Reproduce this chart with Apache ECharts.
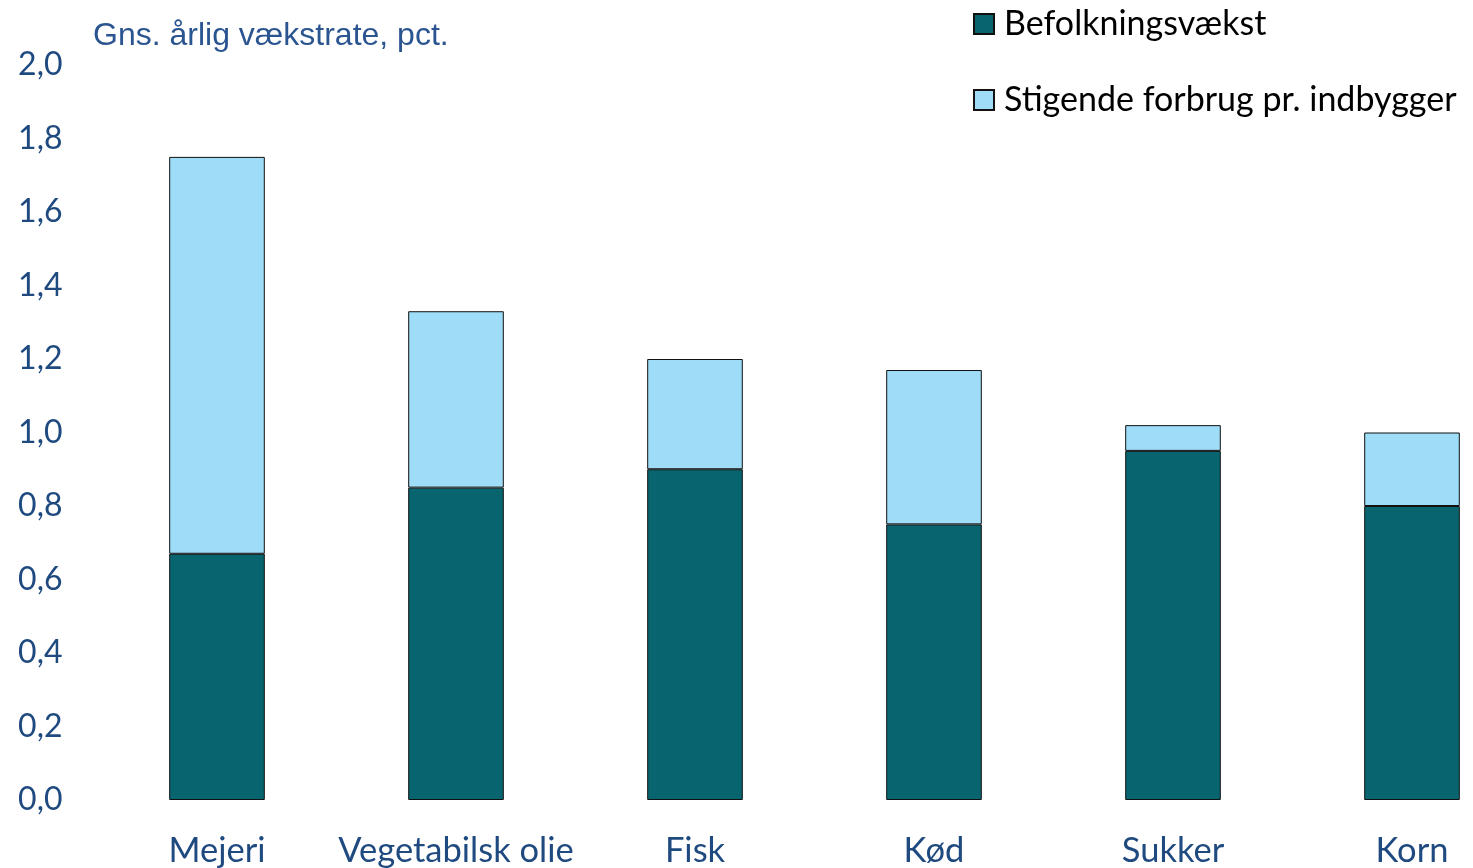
<!DOCTYPE html>
<html>
<head>
<meta charset="utf-8">
<script src="https://cdn.jsdelivr.net/npm/echarts@6.0.0/dist/echarts.min.js"></script>
<style>
html,body{margin:0;padding:0;background:#fff;}
#chart{width:1473px;height:868px;}
</style>
</head>
<body>
<div id="chart"></div>
<script>
var categories = ['Mejeri', 'Vegetabilsk olie', 'Fisk', 'Kød', 'Sukker', 'Korn'];
var befolkningsvaekst = [0.67, 0.85, 0.90, 0.75, 0.95, 0.80];
var stigendeForbrug = [1.08, 0.48, 0.30, 0.42, 0.07, 0.20];
var yTicks = [0, 0.2, 0.4, 0.6, 0.8, 1.0, 1.2, 1.4, 1.6, 1.8, 2.0];

var chart = echarts.init(document.getElementById('chart'));
var labelFont = 'Lato, "Noto Sans", sans-serif';
chart.setOption({
  animation: false,
  title: {
    text: 'Gns. årlig vækstrate, pct.',
    left: 88, top: 14,
    textStyle: {fontFamily: '"Liberation Sans", Arial, sans-serif', fontSize: 32, fontWeight: 'normal', color: '#2B5590', lineHeight: 34}
  },
  legend: [{
    data: ['Befolkningsvækst'],
    left: 973, top: 7, orient: 'vertical', padding: 0,
    itemWidth: 20, itemHeight: 20, icon: 'rect',
    textStyle: {fontFamily: labelFont, fontSize: 34, color: '#000', lineHeight: 34, padding: [0,0,0,5]},
    selectedMode: false
  }, {
    data: ['Stigende forbrug pr. indbygger'],
    left: 973, top: 83, orient: 'vertical', padding: 0,
    itemWidth: 20, itemHeight: 20, icon: 'rect',
    textStyle: {fontFamily: labelFont, fontSize: 34, color: '#000', lineHeight: 34, padding: [0,0,0,5]},
    selectedMode: false
  }],
  grid: {left: 97.5, right: -58.5, top: 65, bottom: 68, outerBoundsMode: 'none', containLabel: false},
  xAxis: {
    type: 'category', data: categories,
    axisLine: {show: false}, axisTick: {show: false},
    axisLabel: {fontFamily: labelFont, fontSize: 34.5, color: '#1F4A80', margin: 33, interval: 0}
  },
  yAxis: {
    type: 'value', min: 0, max: 2, interval: 0.2,
    splitLine: {show: false}, axisLine: {show: false}, axisTick: {show: false},
    axisLabel: {
      fontFamily: labelFont, fontSize: 32, color: '#1F4A80', margin: 35, padding: [4, 0, 0, 0],
      formatter: function (v) { return v.toFixed(1).replace('.', ','); }
    }
  },
  series: [{
    name: 'Befolkningsvækst', type: 'bar', stack: 'a', data: befolkningsvaekst,
    barWidth: '40%',
    itemStyle: {color: '#08656F', borderColor: '#111', borderWidth: 1}
  }, {
    name: 'Stigende forbrug pr. indbygger', type: 'bar', stack: 'a', data: stigendeForbrug,
    barWidth: '40%',
    itemStyle: {color: '#9EDCF7', borderColor: '#111', borderWidth: 1}
  }]
});
</script>
</body>
</html>
